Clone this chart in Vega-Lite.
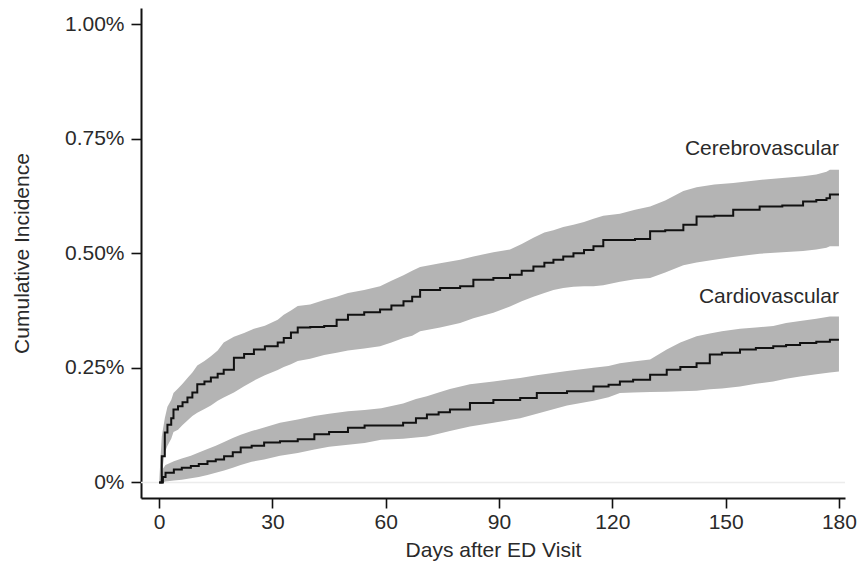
{
  "$schema": "https://vega.github.io/schema/vega-lite/v6.json",
  "width": 704,
  "height": 490,
  "autosize": "none",
  "padding": {"left": 141, "top": 8, "right": 12, "bottom": 63},
  "background": "white",
  "config": {
    "view": {"stroke": null},
    "font": "Liberation Sans",
    "axis": {
      "grid": false,
      "domainColor": "#111111",
      "domainWidth": 2,
      "tickColor": "#111111",
      "tickWidth": 1.6,
      "tickSize": 10,
      "labelFont": "Liberation Sans",
      "labelFontSize": 21,
      "labelColor": "#2a2a2a",
      "titleFont": "Liberation Sans",
      "titleFontSize": 21,
      "titleFontWeight": "normal",
      "titleColor": "#2a2a2a"
    }
  },
  "datasets": {
    "km": [
      {"series": "Cerebrovascular", "day": 0, "est": 0, "lo": 0, "hi": 0},
      {"series": "Cerebrovascular", "day": 0.7, "est": 0.057, "lo": 0.02, "hi": 0.1},
      {"series": "Cerebrovascular", "day": 1.5, "est": 0.109, "lo": 0.065, "hi": 0.14},
      {"series": "Cerebrovascular", "day": 2.2, "est": 0.126, "lo": 0.08, "hi": 0.165},
      {"series": "Cerebrovascular", "day": 3.2, "est": 0.14, "lo": 0.095, "hi": 0.18},
      {"series": "Cerebrovascular", "day": 3.8, "est": 0.159, "lo": 0.11, "hi": 0.195},
      {"series": "Cerebrovascular", "day": 5.0, "est": 0.166, "lo": 0.115, "hi": 0.205},
      {"series": "Cerebrovascular", "day": 6.2, "est": 0.175, "lo": 0.125, "hi": 0.215},
      {"series": "Cerebrovascular", "day": 7.5, "est": 0.185, "lo": 0.135, "hi": 0.228},
      {"series": "Cerebrovascular", "day": 8.8, "est": 0.196, "lo": 0.145, "hi": 0.24},
      {"series": "Cerebrovascular", "day": 10.1, "est": 0.214, "lo": 0.152, "hi": 0.255},
      {"series": "Cerebrovascular", "day": 12.0, "est": 0.22, "lo": 0.16, "hi": 0.265},
      {"series": "Cerebrovascular", "day": 13.7, "est": 0.229, "lo": 0.168, "hi": 0.275},
      {"series": "Cerebrovascular", "day": 15.5, "est": 0.237, "lo": 0.178, "hi": 0.288},
      {"series": "Cerebrovascular", "day": 17.1, "est": 0.246, "lo": 0.185, "hi": 0.305},
      {"series": "Cerebrovascular", "day": 19.8, "est": 0.272, "lo": 0.196, "hi": 0.318},
      {"series": "Cerebrovascular", "day": 22.5, "est": 0.28, "lo": 0.21, "hi": 0.326},
      {"series": "Cerebrovascular", "day": 25.1, "est": 0.29, "lo": 0.222, "hi": 0.335},
      {"series": "Cerebrovascular", "day": 28.0, "est": 0.297, "lo": 0.234, "hi": 0.342},
      {"series": "Cerebrovascular", "day": 31.4, "est": 0.305, "lo": 0.245, "hi": 0.355},
      {"series": "Cerebrovascular", "day": 33.0, "est": 0.315, "lo": 0.252, "hi": 0.366},
      {"series": "Cerebrovascular", "day": 34.9, "est": 0.327, "lo": 0.258, "hi": 0.375},
      {"series": "Cerebrovascular", "day": 36.7, "est": 0.338, "lo": 0.265, "hi": 0.385},
      {"series": "Cerebrovascular", "day": 40.0, "est": 0.339, "lo": 0.27, "hi": 0.388},
      {"series": "Cerebrovascular", "day": 43.7, "est": 0.341, "lo": 0.278, "hi": 0.398},
      {"series": "Cerebrovascular", "day": 47.0, "est": 0.355, "lo": 0.283, "hi": 0.405},
      {"series": "Cerebrovascular", "day": 50.0, "est": 0.366, "lo": 0.288, "hi": 0.413},
      {"series": "Cerebrovascular", "day": 54.3, "est": 0.371, "lo": 0.292, "hi": 0.42},
      {"series": "Cerebrovascular", "day": 58.5, "est": 0.377, "lo": 0.297, "hi": 0.428},
      {"series": "Cerebrovascular", "day": 61.5, "est": 0.386, "lo": 0.305, "hi": 0.44},
      {"series": "Cerebrovascular", "day": 64.7, "est": 0.395, "lo": 0.315, "hi": 0.452},
      {"series": "Cerebrovascular", "day": 67.0, "est": 0.405, "lo": 0.32, "hi": 0.462},
      {"series": "Cerebrovascular", "day": 69.1, "est": 0.42, "lo": 0.33, "hi": 0.47},
      {"series": "Cerebrovascular", "day": 74.4, "est": 0.424, "lo": 0.338, "hi": 0.478},
      {"series": "Cerebrovascular", "day": 79.7, "est": 0.428, "lo": 0.348, "hi": 0.486},
      {"series": "Cerebrovascular", "day": 83.2, "est": 0.442, "lo": 0.358, "hi": 0.493},
      {"series": "Cerebrovascular", "day": 88.5, "est": 0.446, "lo": 0.37, "hi": 0.502},
      {"series": "Cerebrovascular", "day": 92.9, "est": 0.453, "lo": 0.384, "hi": 0.508},
      {"series": "Cerebrovascular", "day": 96.0, "est": 0.462, "lo": 0.395, "hi": 0.52},
      {"series": "Cerebrovascular", "day": 99.1, "est": 0.471, "lo": 0.405, "hi": 0.534},
      {"series": "Cerebrovascular", "day": 102.0, "est": 0.479, "lo": 0.413, "hi": 0.545},
      {"series": "Cerebrovascular", "day": 104.4, "est": 0.486, "lo": 0.42, "hi": 0.55},
      {"series": "Cerebrovascular", "day": 107.0, "est": 0.493, "lo": 0.424, "hi": 0.557},
      {"series": "Cerebrovascular", "day": 109.7, "est": 0.5, "lo": 0.427, "hi": 0.562},
      {"series": "Cerebrovascular", "day": 112.5, "est": 0.507, "lo": 0.428, "hi": 0.568},
      {"series": "Cerebrovascular", "day": 115.0, "est": 0.515, "lo": 0.428, "hi": 0.575},
      {"series": "Cerebrovascular", "day": 117.6, "est": 0.529, "lo": 0.43, "hi": 0.582},
      {"series": "Cerebrovascular", "day": 122.0, "est": 0.529, "lo": 0.438, "hi": 0.586},
      {"series": "Cerebrovascular", "day": 126.0, "est": 0.531, "lo": 0.443, "hi": 0.595},
      {"series": "Cerebrovascular", "day": 130.0, "est": 0.548, "lo": 0.446, "hi": 0.602},
      {"series": "Cerebrovascular", "day": 134.0, "est": 0.55, "lo": 0.458, "hi": 0.615},
      {"series": "Cerebrovascular", "day": 138.8, "est": 0.562, "lo": 0.474, "hi": 0.636},
      {"series": "Cerebrovascular", "day": 142.3, "est": 0.58, "lo": 0.48, "hi": 0.644},
      {"series": "Cerebrovascular", "day": 147.0, "est": 0.582, "lo": 0.486, "hi": 0.65},
      {"series": "Cerebrovascular", "day": 152.0, "est": 0.595, "lo": 0.492, "hi": 0.653},
      {"series": "Cerebrovascular", "day": 159.0, "est": 0.602, "lo": 0.499, "hi": 0.66},
      {"series": "Cerebrovascular", "day": 165.0, "est": 0.604, "lo": 0.502, "hi": 0.664},
      {"series": "Cerebrovascular", "day": 170.5, "est": 0.613, "lo": 0.505, "hi": 0.668},
      {"series": "Cerebrovascular", "day": 174.0, "est": 0.616, "lo": 0.508, "hi": 0.672},
      {"series": "Cerebrovascular", "day": 176.7, "est": 0.62, "lo": 0.512, "hi": 0.678},
      {"series": "Cerebrovascular", "day": 177.6, "est": 0.628, "lo": 0.515, "hi": 0.682},
      {"series": "Cerebrovascular", "day": 180, "est": 0.628, "lo": 0.515, "hi": 0.682},
      {"series": "Cardiovascular", "day": 0, "est": 0, "lo": 0, "hi": 0},
      {"series": "Cardiovascular", "day": 1.0, "est": 0.012, "lo": 0.0, "hi": 0.03},
      {"series": "Cardiovascular", "day": 1.7, "est": 0.021, "lo": 0.002, "hi": 0.038},
      {"series": "Cardiovascular", "day": 3.9, "est": 0.028, "lo": 0.004, "hi": 0.046},
      {"series": "Cardiovascular", "day": 6.0, "est": 0.032, "lo": 0.006, "hi": 0.052},
      {"series": "Cardiovascular", "day": 8.4, "est": 0.036, "lo": 0.009, "hi": 0.058},
      {"series": "Cardiovascular", "day": 10.5, "est": 0.04, "lo": 0.012, "hi": 0.065},
      {"series": "Cardiovascular", "day": 12.8, "est": 0.046, "lo": 0.016, "hi": 0.073},
      {"series": "Cardiovascular", "day": 15.0, "est": 0.05, "lo": 0.021, "hi": 0.08},
      {"series": "Cardiovascular", "day": 17.2, "est": 0.057, "lo": 0.026, "hi": 0.088},
      {"series": "Cardiovascular", "day": 19.5, "est": 0.066, "lo": 0.032, "hi": 0.097},
      {"series": "Cardiovascular", "day": 21.6, "est": 0.076, "lo": 0.038, "hi": 0.104},
      {"series": "Cardiovascular", "day": 24.5, "est": 0.08, "lo": 0.045, "hi": 0.112},
      {"series": "Cardiovascular", "day": 27.8, "est": 0.087, "lo": 0.05, "hi": 0.12},
      {"series": "Cardiovascular", "day": 32.0, "est": 0.09, "lo": 0.058, "hi": 0.13},
      {"series": "Cardiovascular", "day": 36.7, "est": 0.094, "lo": 0.064, "hi": 0.137},
      {"series": "Cardiovascular", "day": 41.1, "est": 0.105, "lo": 0.072, "hi": 0.145},
      {"series": "Cardiovascular", "day": 45.0, "est": 0.11, "lo": 0.078, "hi": 0.15},
      {"series": "Cardiovascular", "day": 50.0, "est": 0.119, "lo": 0.082, "hi": 0.155},
      {"series": "Cardiovascular", "day": 54.4, "est": 0.124, "lo": 0.086, "hi": 0.158},
      {"series": "Cardiovascular", "day": 58.8, "est": 0.124, "lo": 0.093, "hi": 0.162},
      {"series": "Cardiovascular", "day": 64.6, "est": 0.13, "lo": 0.095, "hi": 0.172},
      {"series": "Cardiovascular", "day": 68.0, "est": 0.14, "lo": 0.098, "hi": 0.182},
      {"series": "Cardiovascular", "day": 70.9, "est": 0.148, "lo": 0.1, "hi": 0.188},
      {"series": "Cardiovascular", "day": 74.0, "est": 0.153, "lo": 0.106, "hi": 0.196},
      {"series": "Cardiovascular", "day": 77.0, "est": 0.159, "lo": 0.112, "hi": 0.204},
      {"series": "Cardiovascular", "day": 82.3, "est": 0.173, "lo": 0.122, "hi": 0.214},
      {"series": "Cardiovascular", "day": 88.5, "est": 0.18, "lo": 0.13, "hi": 0.22},
      {"series": "Cardiovascular", "day": 95.6, "est": 0.184, "lo": 0.14, "hi": 0.228},
      {"series": "Cardiovascular", "day": 100.0, "est": 0.195, "lo": 0.15, "hi": 0.234},
      {"series": "Cardiovascular", "day": 108.0, "est": 0.199, "lo": 0.168, "hi": 0.243},
      {"series": "Cardiovascular", "day": 115.0, "est": 0.209, "lo": 0.178, "hi": 0.25},
      {"series": "Cardiovascular", "day": 119.0, "est": 0.213, "lo": 0.186, "hi": 0.254},
      {"series": "Cardiovascular", "day": 122.0, "est": 0.22, "lo": 0.195, "hi": 0.26},
      {"series": "Cardiovascular", "day": 125.5, "est": 0.224, "lo": 0.196, "hi": 0.264},
      {"series": "Cardiovascular", "day": 130.0, "est": 0.235, "lo": 0.197, "hi": 0.268},
      {"series": "Cardiovascular", "day": 134.4, "est": 0.246, "lo": 0.198, "hi": 0.29},
      {"series": "Cardiovascular", "day": 138.0, "est": 0.252, "lo": 0.199, "hi": 0.305},
      {"series": "Cardiovascular", "day": 142.3, "est": 0.26, "lo": 0.2, "hi": 0.319},
      {"series": "Cardiovascular", "day": 145.8, "est": 0.279, "lo": 0.203, "hi": 0.325},
      {"series": "Cardiovascular", "day": 149.0, "est": 0.283, "lo": 0.205, "hi": 0.33},
      {"series": "Cardiovascular", "day": 153.8, "est": 0.29, "lo": 0.209, "hi": 0.335},
      {"series": "Cardiovascular", "day": 158.0, "est": 0.293, "lo": 0.215, "hi": 0.338},
      {"series": "Cardiovascular", "day": 162.6, "est": 0.297, "lo": 0.22, "hi": 0.341},
      {"series": "Cardiovascular", "day": 166.0, "est": 0.3, "lo": 0.226, "hi": 0.348},
      {"series": "Cardiovascular", "day": 169.7, "est": 0.304, "lo": 0.231, "hi": 0.352},
      {"series": "Cardiovascular", "day": 174.0, "est": 0.307, "lo": 0.236, "hi": 0.357},
      {"series": "Cardiovascular", "day": 177.6, "est": 0.311, "lo": 0.24, "hi": 0.362},
      {"series": "Cardiovascular", "day": 180, "est": 0.311, "lo": 0.242, "hi": 0.362}
    ],
    "labels": [
      {"series": "Cerebrovascular", "day": 180, "value": 0.715},
      {"series": "Cardiovascular", "day": 180, "value": 0.392}
    ]
  },
  "layer": [
    {
      "data": {"values": [{"ref": 0}]},
      "mark": {"type": "rule", "color": "#ececec", "strokeWidth": 1.5},
      "encoding": {
        "y": {"field": "ref", "type": "quantitative"}
      }
    },
    {
      "data": {"name": "km"},
      "mark": {"type": "area", "interpolate": "linear", "color": "#b4b4b4", "opacity": 1},
      "encoding": {
        "x": {
          "field": "day", "type": "quantitative",
          "scale": {"domain": [-4.8, 181.6], "nice": false, "zero": false},
          "axis": {"values": [0, 30, 60, 90, 120, 150, 180], "title": "Days after ED Visit", "labelPadding": 3, "titlePadding": 7}
        },
        "y": {
          "field": "lo", "type": "quantitative",
          "scale": {"domain": [-0.034, 1.035], "nice": false, "zero": false},
          "axis": {
            "values": [0, 0.25, 0.5, 0.75, 1],
            "labelExpr": "datum.value == 0 ? '0%' : format(datum.value, '.2f') + '%'",
            "title": "Cumulative Incidence",
            "labelPadding": 7,
            "titlePadding": 32
          }
        },
        "y2": {"field": "hi"},
        "detail": {"field": "series"}
      }
    },
    {
      "data": {"name": "km"},
      "mark": {"type": "line", "interpolate": "step-after", "color": "#111111", "strokeWidth": 2},
      "encoding": {
        "x": {"field": "day", "type": "quantitative"},
        "y": {"field": "est", "type": "quantitative"},
        "detail": {"field": "series"}
      }
    },
    {
      "data": {"name": "labels"},
      "mark": {"type": "text", "align": "right", "baseline": "alphabetic", "font": "Liberation Sans", "fontSize": 21, "color": "#2a2a2a"},
      "encoding": {
        "x": {"field": "day", "type": "quantitative"},
        "y": {"field": "value", "type": "quantitative"},
        "text": {"field": "series"}
      }
    }
  ]
}
